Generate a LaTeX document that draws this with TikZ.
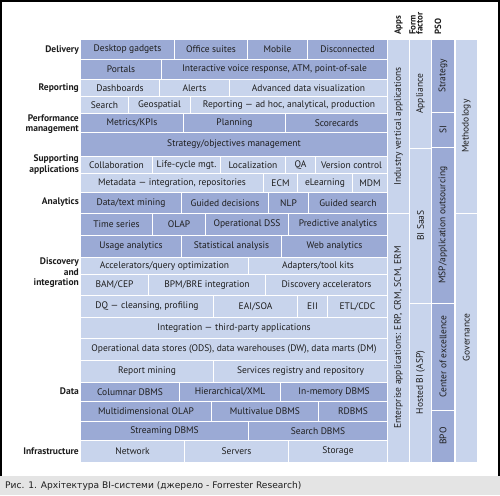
\documentclass[tikz,border=0pt]{standalone}
\usepackage{fontspec}
\setmainfont{PT Sans}
\newfontfamily\capfont{DejaVu Sans}
\definecolor{dk}{HTML}{9BAAD5}
\definecolor{lt}{HTML}{C8D4EC}
\definecolor{tx}{HTML}{1E1E1E}
\definecolor{capgray}{HTML}{E4E4E4}
\tikzset{
 cellbase/.style={draw=white, line width=1pt, inner sep=0pt, outer sep=0pt, text=tx, font=\fontsize{9.5}{11}\selectfont},
 dkcell/.style={cellbase, fill=dk},
 ltcell/.style={cellbase, fill=lt},
 rowlabel/.style={anchor=east, align=right, font=\bfseries\fontsize{9.5}{10.5}\selectfont, text=tx, inner sep=0pt},
 vtext/.style={rotate=90, inner sep=0pt, text=tx, font=\fontsize{9.5}{11}\selectfont},
 header/.style={rotate=90, anchor=west, align=left, inner sep=0pt, font=\bfseries\fontsize{9}{7}\selectfont, text=tx},
}
\newcommand\bx[7]{%
 \pgfmathsetmacro\bxw{#3-#2}%
 \pgfmathsetmacro\bxh{#5-#4}%
 \pgfmathsetmacro\bxcx{(#2+#3)/2}%
 \pgfmathsetmacro\bxcy{-(#4+#5)/2}%
 \node[#6, minimum width=\bxw pt, minimum height=\bxh pt] (#1) at (\bxcx pt,\bxcy pt) {#7};}
\newcommand\vbx[7]{%
 \bx{#1}{#2}{#3}{#4}{#5}{#6}{}%
 \node[vtext] (#1t) at (#1.center) {#7};}
\begin{document}
\begin{tikzpicture}[x=1pt,y=1pt]
\useasboundingbox (0,0) rectangle (500,-495);
\fill[white] (0,0) rectangle (500,-476);
\fill[capgray] (0,-476) rectangle (500,-495);
\draw[black, line width=1.6pt] (0.8,-476) -- (0.8,-0.8) -- (499.2,-0.8) -- (499.2,-476);
% row 1
\bx{a1}{80.5}{174.5}{39.5}{59.5}{dkcell}{Desktop gadgets}
\bx{a2}{174.5}{247.5}{39.5}{59.5}{dkcell}{Office suites}
\bx{a3}{247.5}{307.5}{39.5}{59.5}{dkcell}{Mobile}
\bx{a4}{307.5}{387.5}{39.5}{59.5}{dkcell}{Disconnected}
% row 2
\bx{b1}{80.5}{161.5}{59.5}{79.5}{dkcell}{Portals}
\bx{b2}{161.5}{387.5}{59.5}{79.5}{dkcell}{Interactive voice response, ATM, point-of-sale}
% row 3
\bx{c1}{80.5}{159.5}{79.5}{96.5}{ltcell}{Dashboards}
\bx{c2}{159.5}{229.5}{79.5}{96.5}{ltcell}{Alerts}
\bx{c3}{229.5}{387.5}{79.5}{96.5}{ltcell}{Advanced data visualization}
% row 4
\bx{d1}{80.5}{128.5}{96.5}{113.5}{ltcell}{Search}
\bx{d2}{128.5}{190.5}{96.5}{113.5}{ltcell}{Geospatial}
\bx{d3}{190.5}{387.5}{96.5}{113.5}{ltcell}{Reporting — ad hoc, analytical, production}
% row 5
\bx{e1}{80.5}{183.5}{113.5}{132.5}{dkcell}{Metrics/KPIs}
\bx{e2}{183.5}{285.5}{113.5}{132.5}{dkcell}{Planning}
\bx{e3}{285.5}{387.5}{113.5}{132.5}{dkcell}{Scorecards}
% row 6
\bx{f1}{80.5}{387.5}{132.5}{156.5}{dkcell}{Strategy/objectives management}
% row 7
\bx{g1}{80.5}{152.5}{156.5}{173.5}{ltcell}{Collaboration}
\bx{g2}{152.5}{220.5}{156.5}{173.5}{ltcell}{Life-cycle mgt.}
\bx{g3}{220.5}{285.5}{156.5}{173.5}{ltcell}{Localization}
\bx{g4}{285.5}{315.5}{156.5}{173.5}{ltcell}{QA}
\bx{g5}{315.5}{387.5}{156.5}{173.5}{ltcell}{Version control}
% row 8
\bx{h1}{80.5}{263.5}{173.5}{192}{ltcell}{Metadata — integration, repositories}
\bx{h2}{263.5}{297.5}{173.5}{192}{ltcell}{ECM}
\bx{h3}{297.5}{352.5}{173.5}{192}{ltcell}{eLearning}
\bx{h4}{352.5}{387.5}{173.5}{192}{ltcell}{MDM}
% row 9
\bx{i1}{80.5}{181.5}{192}{213.5}{dkcell}{Data/text mining}
\bx{i2}{181.5}{268.5}{192}{213.5}{dkcell}{Guided decisions}
\bx{i3}{268.5}{308.5}{192}{213.5}{dkcell}{NLP}
\bx{i4}{308.5}{387.5}{192}{213.5}{dkcell}{Guided search}
% row 10
\bx{j1}{80.5}{152.5}{213.5}{235.5}{dkcell}{Time series}
\bx{j2}{152.5}{205.5}{213.5}{235.5}{dkcell}{OLAP}
\bx{j3}{205.5}{288.5}{213.5}{235.5}{dkcell}{Operational DSS}
\bx{j4}{288.5}{387.5}{213.5}{235.5}{dkcell}{Predictive analytics}
% row 11
\bx{k1}{80.5}{181.5}{235.5}{257.5}{dkcell}{Usage analytics}
\bx{k2}{181.5}{281.5}{235.5}{257.5}{dkcell}{Statistical analysis}
\bx{k3}{281.5}{387.5}{235.5}{257.5}{dkcell}{Web analytics}
% row 12
\bx{l1}{80.5}{248.5}{257.5}{274.5}{ltcell}{Accelerators/query optimization}
\bx{l2}{248.5}{387.5}{257.5}{274.5}{ltcell}{Adapters/tool kits}
% row 13
\bx{m1}{80.5}{148.5}{274.5}{295.5}{ltcell}{BAM/CEP}
\bx{m2}{148.5}{265.5}{274.5}{295.5}{ltcell}{BPM/BRE integration}
\bx{m3}{265.5}{387.5}{274.5}{295.5}{ltcell}{Discovery accelerators}
% row 14
\bx{n1}{80.5}{213.5}{295.5}{317.5}{ltcell}{DQ — cleansing, profiling}
\bx{n2}{213.5}{297.5}{295.5}{317.5}{ltcell}{EAI/SOA}
\bx{n3}{297.5}{327.5}{295.5}{317.5}{ltcell}{EII}
\bx{n4}{327.5}{387.5}{295.5}{317.5}{ltcell}{ETL/CDC}
% row 15
\bx{o1}{80.5}{387.5}{317.5}{338.5}{ltcell}{Integration — third-party applications}
% row 16
\bx{p1}{80.5}{387.5}{338.5}{360.5}{ltcell}{Operational data stores (ODS), data warehouses (DW), data marts (DM)}
% row 17
\bx{q1}{80.5}{213.5}{360.5}{382}{ltcell}{Report mining}
\bx{q2}{213.5}{387.5}{360.5}{382}{ltcell}{Services registry and repository}
% row 18
\bx{r1}{80.5}{179.5}{382}{401.5}{dkcell}{Columnar DBMS}
\bx{r2}{179.5}{280.5}{382}{401.5}{dkcell}{Hierarchical/XML}
\bx{r3}{280.5}{387.5}{382}{401.5}{dkcell}{In-memory DBMS}
% row 19
\bx{s1}{80.5}{211.5}{401.5}{421.5}{dkcell}{Multidimensional OLAP}
\bx{s2}{211.5}{318.5}{401.5}{421.5}{dkcell}{Multivalue DBMS}
\bx{s3}{318.5}{387.5}{401.5}{421.5}{dkcell}{RDBMS}
% row 20
\bx{t1}{80.5}{248.5}{421.5}{440.5}{dkcell}{Streaming DBMS}
\bx{t2}{248.5}{387.5}{421.5}{440.5}{dkcell}{Search DBMS}
% row 21
\bx{u1}{80.5}{184.5}{440.5}{462}{ltcell}{Network}
\bx{u2}{184.5}{288.5}{440.5}{462}{ltcell}{Servers}
\bx{u3}{288.5}{387.5}{440.5}{462}{ltcell}{Storage}
% right columns
\vbx{va1}{387.5}{409.5}{39.5}{213}{ltcell}{Industry vertical applications}
\vbx{va2}{387.5}{409.5}{213}{462}{ltcell}{Enterprise applications: ERP, CRM, SCM, ERM}
\vbx{vf1}{409.5}{431.5}{39.5}{148}{ltcell}{Appliance}
\vbx{vf2}{409.5}{431.5}{148}{303}{ltcell}{BI SaaS}
\vbx{vf3}{409.5}{431.5}{303}{462}{ltcell}{Hosted BI (ASP)}
\vbx{vp1}{431.5}{454.5}{39.5}{112.5}{dkcell}{Strategy}
\vbx{vp2}{431.5}{454.5}{112.5}{147.5}{dkcell}{SI}
\vbx{vp3}{431.5}{454.5}{147.5}{303}{dkcell}{MSP/application outsourcing}
\vbx{vp4}{431.5}{454.5}{303}{410}{dkcell}{Center of excellence}
\vbx{vp5}{431.5}{454.5}{410}{462}{dkcell}{BPO}
\vbx{vm1}{455}{477.5}{39.5}{213}{ltcell}{Methodology}
\vbx{vm2}{455}{477.5}{213}{462}{ltcell}{Governance}
% headers
\node[header] (hApps) at (398.5,-35) {Apps};
\node[header] (hForm) at (416,-35) {Form\\factor};
\node[header] (hPSO) at (438,-35) {PSO};
% row labels
\node[rowlabel] (lDel) at (79,-50) {Delivery};
\node[rowlabel] (lRep) at (79,-88.5) {Reporting};
\node[rowlabel] (lPerf) at (79,-124) {Performance\\management};
\node[rowlabel] (lSup) at (79,-164.5) {Supporting\\applications};
\node[rowlabel] (lAna) at (79,-202) {Analytics};
\node[rowlabel] (lDisc) at (79,-273) {Discovery\\and\\integration};
\node[rowlabel] (lData) at (79,-391.5) {Data};
\node[rowlabel] (lInf) at (79,-451) {Infrastructure};
% caption
\node[anchor=west, inner sep=0pt, font=\capfont\fontsize{9.1}{11}\selectfont, text=tx] (cap) at (5,-485.5) {Рис. 1. Архітектура BI-системи (джерело - Forrester Research)};
\end{tikzpicture}
\end{document}
